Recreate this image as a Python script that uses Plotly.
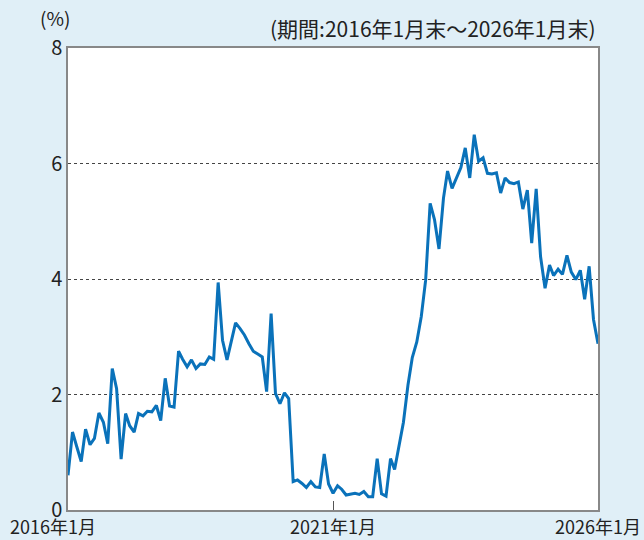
import plotly.graph_objects as go
import pandas as pd

months = pd.date_range("2016-01-01", "2026-01-01", freq="MS")
values = [
    0.60, 1.35, 1.10, 0.84, 1.40, 1.13, 1.24, 1.68, 1.52, 1.15,
    2.45, 2.10, 0.88, 1.67, 1.46, 1.35, 1.67, 1.63, 1.71, 1.70,
    1.81, 1.55, 2.28, 1.80, 1.78, 2.75, 2.61, 2.48, 2.60, 2.45,
    2.53, 2.52, 2.65, 2.61, 3.94, 2.94, 2.60, 2.94, 3.24, 3.14,
    3.03, 2.88, 2.75, 2.70, 2.65, 2.05, 3.40, 2.02, 1.84, 2.03,
    1.93, 0.49, 0.52, 0.46, 0.39, 0.49, 0.40, 0.39, 0.97, 0.45,
    0.29, 0.42, 0.36, 0.26, 0.27, 0.29, 0.27, 0.32, 0.23, 0.23,
    0.89, 0.28, 0.24, 0.89, 0.70, 1.14, 1.52, 2.16, 2.64, 2.91,
    3.35, 3.98, 5.31, 5.03, 4.52, 5.40, 5.87, 5.57, 5.75, 5.93,
    6.27, 5.75, 6.50, 6.04, 6.10, 5.83, 5.82, 5.84, 5.49, 5.75,
    5.67, 5.65, 5.68, 5.21, 5.54, 4.62, 5.56, 4.39, 3.84, 4.24,
    4.06, 4.17, 4.08, 4.41, 4.12, 3.99, 4.15, 3.65, 4.22, 3.30,
    2.88,
]
x_tick_dates = ["2016-01-01", "2021-01-01", "2026-01-01"]
x_tick_labels = ["2016年1月", "2021年1月", "2026年1月"]
y_ticks = [0, 2, 4, 6, 8]
y_unit = "(%)"
period_note = "(期間:2016年1月末～2026年1月末)"

BG = "#e0eff7"
LINE = "#0a72ba"
FONT = "Noto Sans CJK JP"
TXT = "#222222"

fig = go.Figure()
fig.add_trace(go.Scatter(x=months, y=values, mode="lines",
                         line=dict(color=LINE, width=3), hoverinfo="skip"))

fig.update_layout(
    width=644, height=540,
    paper_bgcolor=BG, plot_bgcolor="white",
    margin=dict(l=68, r=46, t=48, b=30),
    showlegend=False,
    font=dict(family=FONT, color=TXT),
    xaxis=dict(
        range=[months[0], months[-1]],
        tickvals=x_tick_dates, ticktext=["", "", ""],
        ticks="inside", ticklen=9, tickcolor="#555555", tickwidth=1,
        showgrid=False, zeroline=False,
        showline=True, linecolor="#888888", linewidth=1.5, mirror=True,
    ),
    yaxis=dict(
        range=[0, 8], tickvals=y_ticks,
        ticktext=[str(v) for v in y_ticks],
        tickfont=dict(size=20, family=FONT, color=TXT),
        ticks="", showgrid=True, gridcolor="#444444", griddash="dot", gridwidth=1,
        zeroline=False,
        showline=True, linecolor="#888888", linewidth=1.5, mirror=True,
    ),
)

shifts = [-15, 0, 0]
for d, lab, s in zip(x_tick_dates, x_tick_labels, shifts):
    fig.add_annotation(x=d, y=0, xref="x", yref="paper", text=lab,
                       showarrow=False, xanchor="center", yanchor="top",
                       yshift=-1, xshift=s,
                       font=dict(size=18, family=FONT, color=TXT))

fig.add_annotation(x=-0.025, y=1.0, xref="paper", yref="paper", text=y_unit,
                   showarrow=False, xanchor="center", yanchor="bottom", yshift=15,
                   font=dict(size=19, family=FONT, color=TXT))
fig.add_annotation(x=1.0, y=1.0, xref="paper", yref="paper", text=period_note,
                   showarrow=False, xanchor="right", yanchor="bottom", yshift=3,
                   font=dict(size=21, family=FONT, color=TXT))

fig.write_html("out.html", config={"displayModeBar": False},
               post_script="document.body.style.margin='0';")
